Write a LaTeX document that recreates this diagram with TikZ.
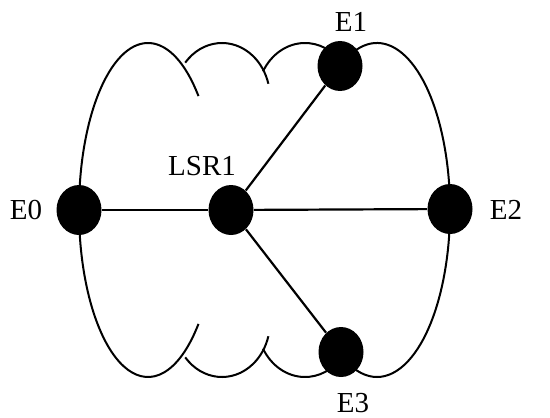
\documentclass[tikz,border=0pt]{standalone}
\usepackage{fontspec}
\setmainfont{Liberation Serif}
\usetikzlibrary{shapes.geometric}
\begin{document}
\begin{tikzpicture}[x=0.5pt, y=-0.5pt,
    every node/.style={font=\fontsize{14.5}{17}\selectfont},
    dot/.style={ellipse, fill=black, inner sep=0pt, minimum width=22.5pt, minimum height=25pt},
    cloud/.style={line width=1pt},
    link/.style={line width=1.1pt}]
    \useasboundingbox (0,0) rectangle (550,417);

    % cloud outline
    \draw[cloud] ([shift={(-43:69 and 167)}]148,210) arc[start angle=-43, end angle=-317, x radius=69, y radius=167];
    \draw[cloud] ([shift={(-115:73 and 167)}]377,210) arc[start angle=-115, end angle=115, x radius=73, y radius=167];
    \draw[cloud] ([shift={(-140:48 and 55)}]222,98) arc[start angle=-140, end angle=-15, x radius=48, y radius=55];
    \draw[cloud] ([shift={(-151:48 and 55)}]305,98) arc[start angle=-151, end angle=-40, x radius=48, y radius=55];
    \draw[cloud] ([shift={(140:48 and 55)}]222,322) arc[start angle=140, end angle=15, x radius=48, y radius=55];
    \draw[cloud] ([shift={(151:48 and 55)}]305,322) arc[start angle=151, end angle=40, x radius=48, y radius=55];

    % routers
    \node[dot] (e0) at (79,210) {};
    \node[dot] (lsr1) at (231,210) {};
    \node[dot] (e1) at (340,66) {};
    \node[dot] (e2) at (450,209) {};
    \node[dot] (e3) at (341,352) {};

    \draw[link] (lsr1) -- (e0);
    \draw[link] (lsr1) -- (e1);
    \draw[link] (lsr1) -- (e2);
    \draw[link] (lsr1) -- (e3);

    % labels
    \node (e0lbl) at (26,210) {E0};
    \node (lsr1lbl) at (202,166) {LSR1};
    \node (e1lbl) at (351,22) {E1};
    \node (e2lbl) at (506,210) {E2};
    \node (e3lbl) at (353,403) {E3};
\end{tikzpicture}
\end{document}
